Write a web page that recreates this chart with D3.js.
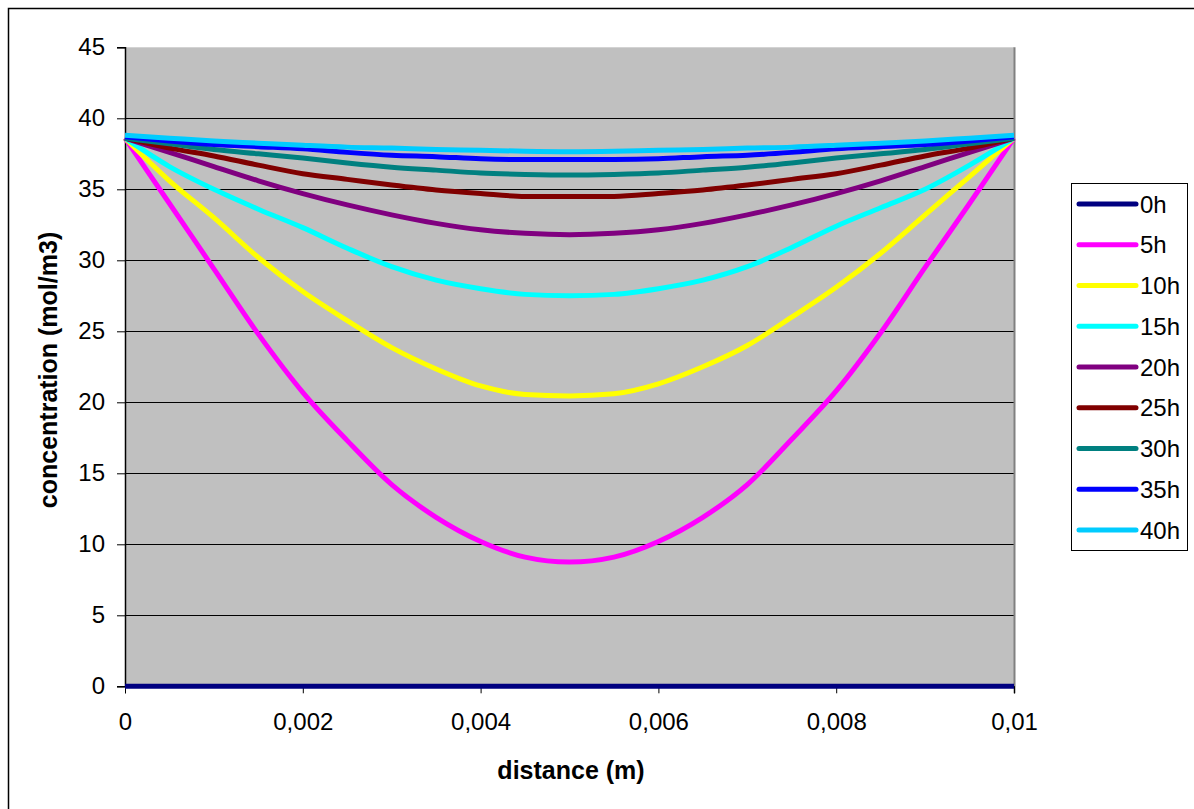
<!DOCTYPE html>
<html>
<head>
<meta charset="utf-8">
<script src="https://cdn.jsdelivr.net/npm/d3@7"></script>
<style>
  html, body { margin: 0; padding: 0; background: #fff; }
  svg { display: block; }
</style>
</head>
<body>
<svg id="chart" width="1194" height="809"></svg>
<script>
// ---- data ----
const distances = [0, 0.0005, 0.001, 0.0015, 0.002, 0.0025, 0.003, 0.0035, 0.004, 0.0045, 0.005,
                   0.0055, 0.006, 0.0065, 0.007, 0.0075, 0.008, 0.0085, 0.009, 0.0095, 0.01];
const seriesNames = ["0h", "5h", "10h", "15h", "20h", "25h", "30h", "35h", "40h"];
const seriesColors = ["#000080", "#FF00FF", "#FFFF00", "#00FFFF", "#800080", "#800000", "#008080", "#0000FF", "#00CCFF"];
const c0h  = [0,0,0,0,0,0,0,0,0,0,0,0,0,0,0,0,0,0,0,0,0];
const c5h  = [38.6, 34.0, 29.4, 24.8, 20.7, 17.3, 14.2, 11.9, 10.2, 9.1, 8.75, 9.1, 10.2, 11.9, 14.2, 17.4, 20.8, 24.9, 29.5, 34.0, 38.6];
const c10h = [38.6, 35.6, 33.0, 30.2, 27.8, 25.75, 23.85, 22.35, 21.15, 20.55, 20.45, 20.6, 21.3, 22.5, 24.0, 26.0, 28.1, 30.5, 33.2, 35.9, 38.6];
const c15h = [38.6, 36.6, 35.0, 33.6, 32.3, 30.85, 29.55, 28.6, 28.0, 27.6, 27.5, 27.6, 28.0, 28.6, 29.55, 30.9, 32.4, 33.7, 35.0, 36.7, 38.6];
const c20h = [38.6, 37.6, 36.6, 35.6, 34.7, 33.9, 33.2, 32.6, 32.15, 31.9, 31.8, 31.9, 32.15, 32.6, 33.2, 33.9, 34.7, 35.6, 36.6, 37.6, 38.6];
const c25h = [38.6, 37.9, 37.35, 36.7, 36.1, 35.7, 35.3, 34.95, 34.7, 34.5, 34.5, 34.5, 34.7, 34.95, 35.3, 35.7, 36.1, 36.7, 37.35, 37.9, 38.6];
const c30h = [38.6, 38.2, 37.8, 37.5, 37.2, 36.85, 36.55, 36.35, 36.15, 36.05, 36.0, 36.05, 36.15, 36.35, 36.55, 36.85, 37.2, 37.5, 37.8, 38.2, 38.6];
const c35h = [38.7, 38.4, 38.15, 38.0, 37.85, 37.6, 37.4, 37.3, 37.15, 37.1, 37.1, 37.1, 37.15, 37.3, 37.4, 37.6, 37.85, 38.0, 38.15, 38.4, 38.7];
const c40h = [38.8, 38.6, 38.4, 38.25, 38.1, 37.97, 37.9, 37.8, 37.75, 37.68, 37.65, 37.68, 37.75, 37.8, 37.9, 37.97, 38.1, 38.25, 38.4, 38.6, 38.8];
const seriesValues = [c0h, c5h, c10h, c15h, c20h, c25h, c30h, c35h, c40h];

const xTickValues = [0, 0.002, 0.004, 0.006, 0.008, 0.01];
const xTickLabels = ["0", "0,002", "0,004", "0,006", "0,008", "0,01"];
const yTickValues = [0, 5, 10, 15, 20, 25, 30, 35, 40, 45];
const xTitle = "distance (m)";
const yTitle = "concentration (mol/m3)";

// ---- layout ----
const svg = d3.select("#chart");
const plot = { left: 125, right: 1014, top: 47.3, bottom: 686.3 };
const x = d3.scaleLinear().domain([0, 0.01]).range([plot.left, plot.right]);
const y = d3.scaleLinear().domain([0, 45]).range([plot.bottom, plot.top]);
const font = "Liberation Sans, Arial, sans-serif";

// outer chart border
svg.append("rect").attr("x", 8.5).attr("y", 8.5).attr("width", 1200).attr("height", 820)
  .attr("fill", "#fff").attr("stroke", "#000").attr("stroke-width", 1.5);

// plot area
svg.append("rect").attr("x", plot.left).attr("y", plot.top)
  .attr("width", plot.right - plot.left).attr("height", plot.bottom - plot.top)
  .attr("fill", "#C0C0C0");

// gridlines
svg.append("g").selectAll("line").data(yTickValues.filter(v => v > 0 && v < 45)).join("line")
  .attr("x1", plot.left).attr("x2", plot.right)
  .attr("y1", d => Math.round(y(d)) + 0.5).attr("y2", d => Math.round(y(d)) + 0.5)
  .attr("stroke", "#000").attr("stroke-width", 1);

// right border of plot area
svg.append("line").attr("x1", plot.right + 0.5).attr("x2", plot.right + 0.5)
  .attr("y1", plot.top).attr("y2", plot.bottom + 7)
  .attr("stroke", "#808080").attr("stroke-width", 2);

// axes
const yAxis = d3.axisLeft(y).tickValues(yTickValues).tickSize(8).tickPadding(12).tickFormat(d3.format("d"));
const gy = svg.append("g").attr("transform", `translate(${plot.left},0)`).call(yAxis);
gy.select(".domain").attr("stroke", "#000").attr("stroke-width", 1.5);
gy.selectAll(".tick line").attr("stroke", "#000");
gy.selectAll("text").attr("font-family", font).attr("font-size", 24).attr("fill", "#000");

const xAxis = d3.axisBottom(x).tickValues(xTickValues).tickSize(7).tickPadding(20)
  .tickFormat((d, i) => xTickLabels[i]);
const gx = svg.append("g").attr("transform", `translate(0,${plot.bottom})`).call(xAxis);
gx.select(".domain").attr("stroke", "#000").attr("stroke-width", 1);
gx.selectAll(".tick line").attr("stroke", "#000");
gx.selectAll("text").attr("font-family", font).attr("font-size", 24).attr("fill", "#000");

// series lines
const line = d3.line().x((d, i) => x(distances[i])).y(d => y(d)).curve(d3.curveMonotoneX);
svg.append("g").selectAll("path").data(seriesValues).join("path")
  .attr("d", d => line(d))
  .attr("fill", "none")
  .attr("stroke", (d, i) => seriesColors[i])
  .attr("stroke-width", 5)
  .attr("stroke-linejoin", "round");

// axis titles
svg.append("text").attr("x", 571).attr("y", 779).attr("text-anchor", "middle")
  .attr("font-family", font).attr("font-weight", "bold").attr("font-size", 25).text(xTitle);
svg.append("text").attr("transform", "translate(57,370) rotate(-90)").attr("text-anchor", "middle")
  .attr("font-family", font).attr("font-weight", "bold").attr("font-size", 25).text(yTitle);

// legend
const legend = svg.append("g");
legend.append("rect").attr("x", 1071.5).attr("y", 183.5).attr("width", 116).attr("height", 367)
  .attr("fill", "#fff").attr("stroke", "#000").attr("stroke-width", 1);
const items = legend.selectAll("g.item").data(seriesNames).join("g").attr("class", "item")
  .attr("transform", (d, i) => `translate(0,${204 + i * 40.75})`);
items.append("line").attr("x1", 1079).attr("x2", 1136).attr("y1", 0).attr("y2", 0)
  .attr("stroke", (d, i) => seriesColors[i]).attr("stroke-width", 5).attr("stroke-linecap", "round");
items.append("text").attr("x", 1140).attr("y", 0).attr("dy", "0.36em")
  .attr("font-family", font).attr("font-size", 24).text(d => d);
</script>
</body>
</html>
